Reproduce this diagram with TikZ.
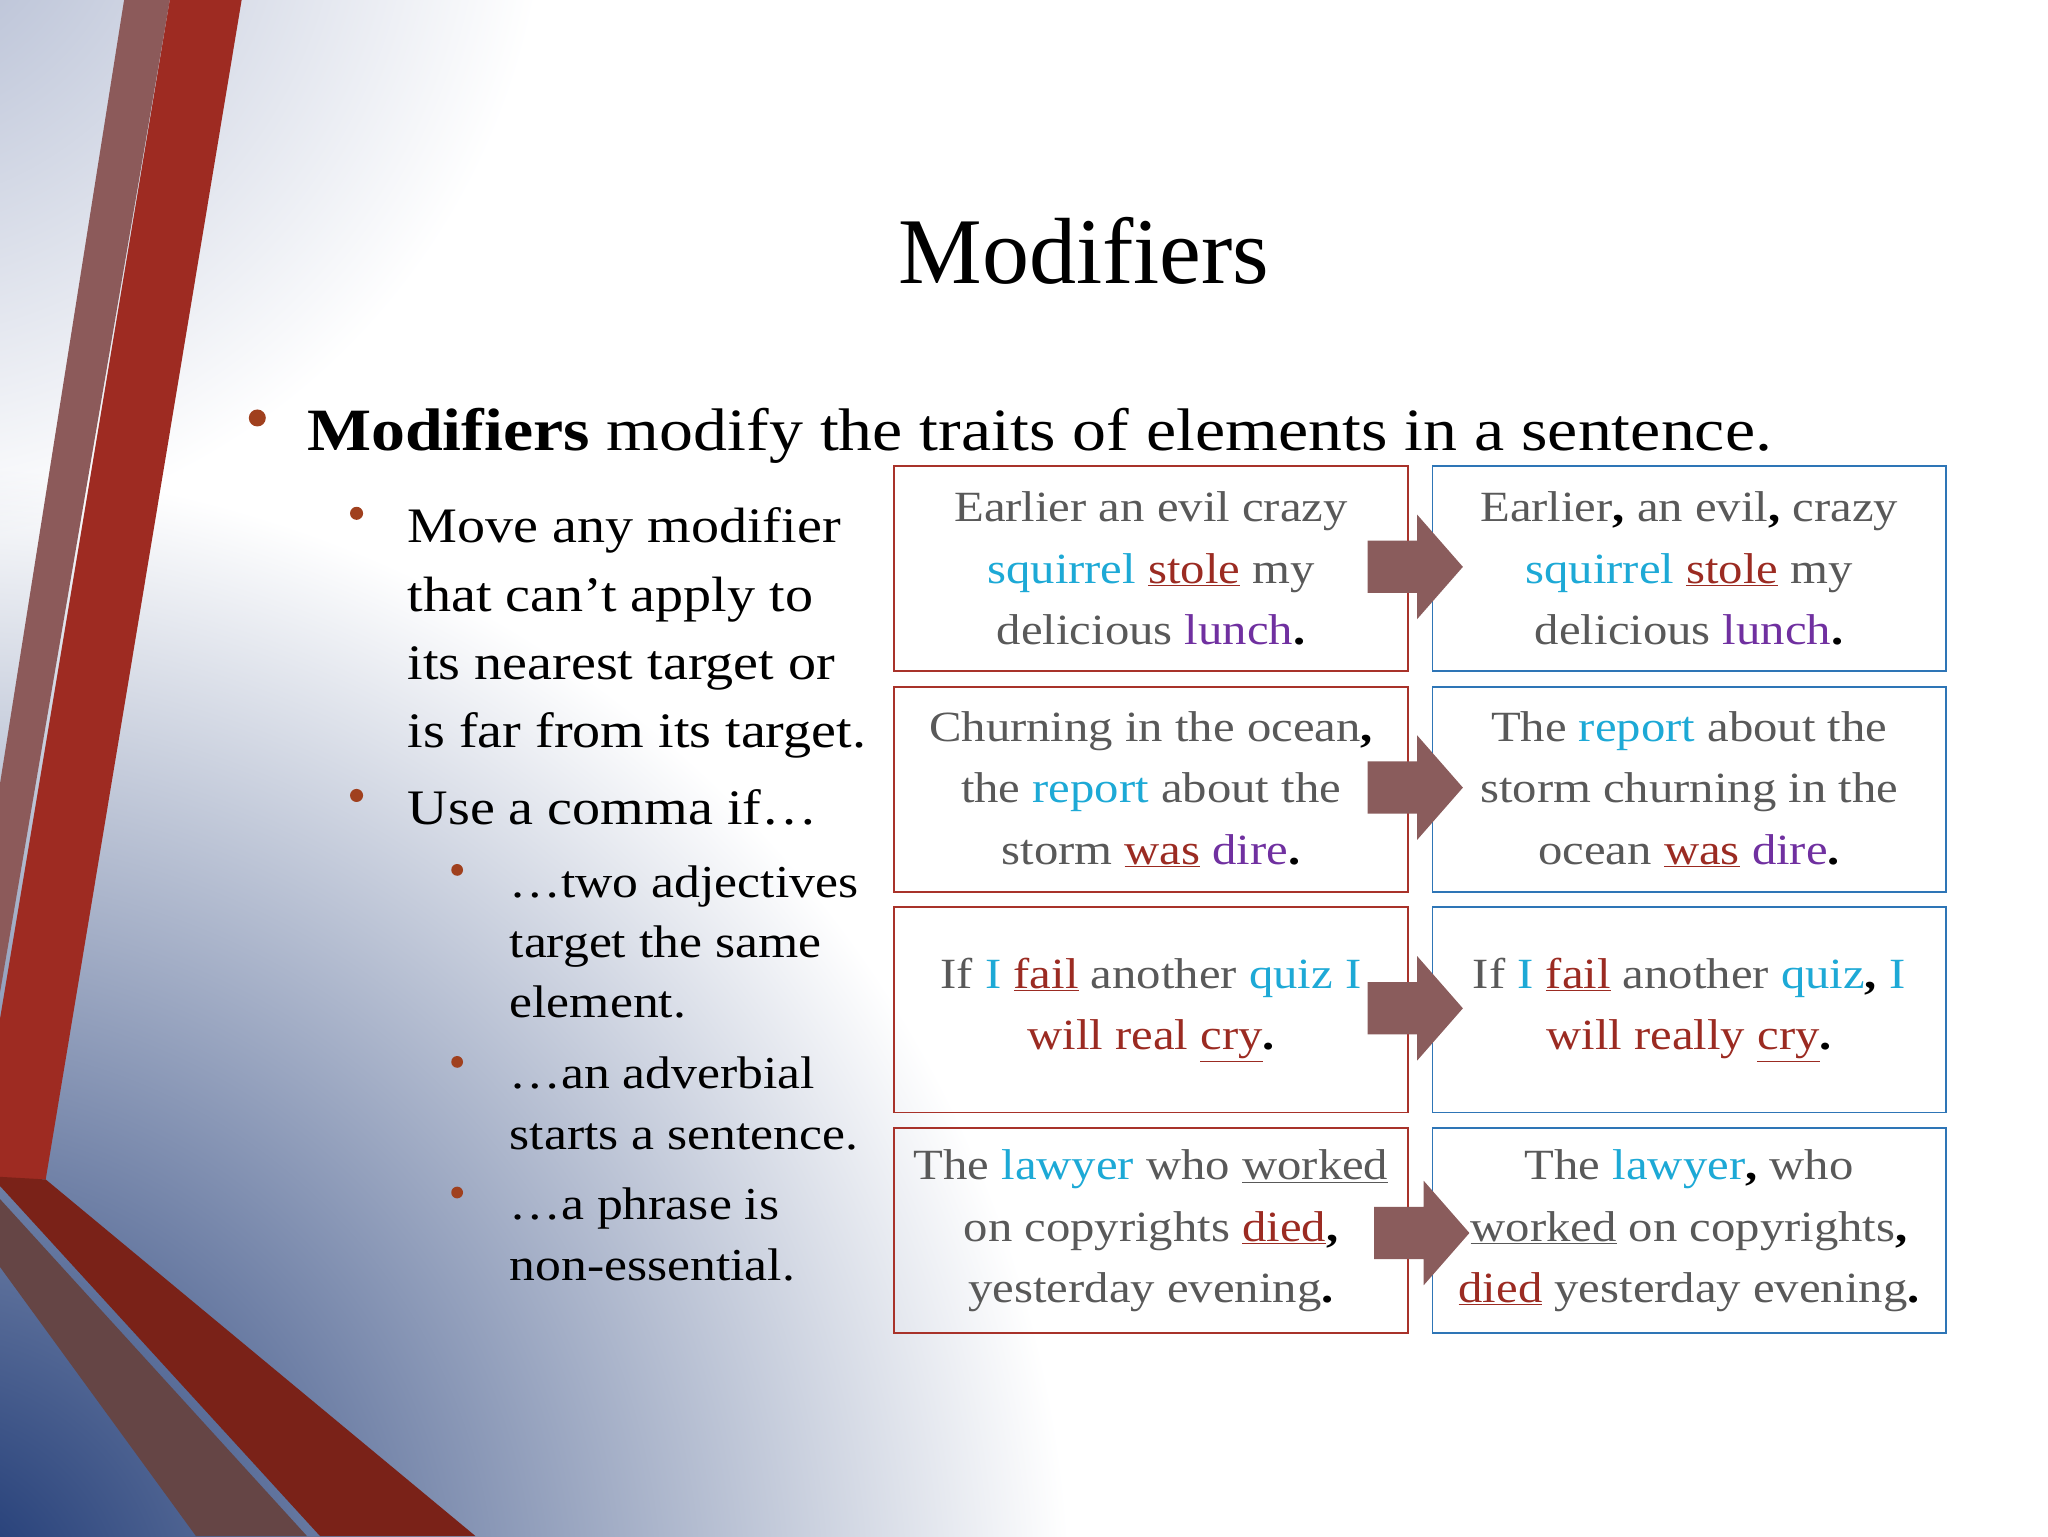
\documentclass[tikz,border=0pt]{standalone}
\usepackage{fontspec}
\setmainfont[FakeStretch=1.13]{Liberation Serif}
\newfontfamily\titlefont{Liberation Serif}
\usetikzlibrary{shadings}
\definecolor{brd}{HTML}{A8322A}
\definecolor{bbl}{HTML}{2E75B6}
\definecolor{txg}{HTML}{595959}
\definecolor{cy}{HTML}{1DA9D6}
\definecolor{vr}{HTML}{9B2B22}
\definecolor{pu}{HTML}{7030A0}
\definecolor{arr}{HTML}{8A5C5C}
\definecolor{bul}{HTML}{A0401E}
\definecolor{stripe}{HTML}{9E2B22}
\definecolor{stripedk}{HTML}{7A2218}
\definecolor{stripeg}{HTML}{8C5A5A}
\definecolor{stripeg2}{HTML}{654545}
\definecolor{navy}{HTML}{14306E}
\definecolor{lbg}{HTML}{A8B2CC}
\newcommand{\Wsub}[1]{\textcolor{cy}{#1}}
\newcommand{\Wverb}[1]{\textcolor{vr}{\underline{#1}}}
\newcommand{\Wpur}[1]{\textcolor{pu}{#1}}
\newcommand{\Wblk}[1]{\textcolor{black}{\textbf{#1}}}
\tikzset{
 lbox/.style={draw=brd,line width=1.5pt,minimum width=393pt,minimum height=157pt,anchor=north west,align=center,text=txg,font=\fontsize{33}{47}\selectfont,inner sep=0pt},
 rbox/.style={lbox,draw=bbl},
 barr/.style={fill=arr,draw=none},
 bl/.style={circle,fill=bul,inner sep=0pt,minimum size=#1},
 t1/.style={anchor=base west,font=\fontsize{46}{50}\selectfont,inner sep=0pt},
 t2/.style={anchor=base west,font=\fontsize{38}{50}\selectfont,inner sep=0pt},
 t3/.style={anchor=base west,font=\fontsize{35}{50}\selectfont,inner sep=0pt},
}
\begin{document}
\begin{tikzpicture}[x=1pt,y=-1pt]
\useasboundingbox (0,0) rectangle (1568,1176);
\fill[white] (0,0) rectangle (1568,1176);
\begin{scope}
\clip (0,0) rectangle (1568,1176);
\shade[inner color=lbg, outer color=white] (-100,-100) circle (520);
\begin{scope}[blend mode=multiply]
\shade[inner color=navy, outer color=white] (-60,1236) circle (880);
\end{scope}
\end{scope}
\fill[stripeg] (95,0) -- (130,0) -- (0,760) -- (0,600) -- cycle;
\fill[stripe] (130,0) -- (185,0) -- (35,903) -- (0,903) -- (0,780) -- cycle;
\fill[stripedk] (0,901) -- (35,903) -- (364,1176) -- (245,1176) -- (0,908) -- cycle;
\fill[stripeg2] (0,918) -- (235,1176) -- (150,1176) -- (0,970) -- cycle;
\node (title) at (830,192) {\titlefont\fontsize{72}{80}\selectfont Modifiers};
\node[bl=13pt] (b0) at (197,320) {};
\node[t1] (l0) at (235,345) {\textbf{Modifiers} modify the traits of elements in a sentence.};
\foreach \y/\t in {402/{Move any modifier},455/{that can’t apply to},507/{its nearest target or},559/{is far from its target.},618/{Use a comma if…}}
  \node[t2] at (312,\y+13) {\t};
\node[bl=10pt] (b1) at (273,393) {};
\node[bl=10pt] (b2) at (273,609) {};
\foreach \y/\t in {675/{…two adjectives},721/{target the same},767/{element.},821/{…an adverbial},868/{starts a sentence.},922/{…a phrase is},968/{non-essential.}}
  \node[t3] at (390,\y+12) {\t};
\node[bl=9pt] (c1) at (350,666) {};
\node[bl=9pt] (c2) at (350,813) {};
\node[bl=9pt] (c3) at (350,913) {};
% boxes
\node[lbox] (l1) at (684,356) {Earlier an evil crazy\\ \Wsub{squirrel} \Wverb{stole} my\\ delicious \Wpur{lunch}\Wblk{.}};
\node[rbox] (r1) at (1096,356) {Earlier\Wblk{,} an evil\Wblk{,} crazy\\ \Wsub{squirrel} \Wverb{stole} my\\ delicious \Wpur{lunch}\Wblk{.}};
\node[lbox] (l2) at (684,525) {Churning in the ocean\Wblk{,}\\ the \Wsub{report} about the\\ storm \Wverb{was} \Wpur{dire}\Wblk{.}};
\node[rbox] (r2) at (1096,525) {The \Wsub{report} about the\\ storm churning in the\\ ocean \Wverb{was} \Wpur{dire}\Wblk{.}};
\node[lbox] (l3) at (684,694) {If \Wsub{I} \Wverb{fail} another \Wsub{quiz} \Wsub{I}\\ \textcolor{vr}{will real} \Wverb{cry}\Wblk{.}};
\node[rbox] (r3) at (1096,694) {If \Wsub{I} \Wverb{fail} another \Wsub{quiz}\Wblk{,} \Wsub{I}\\ \textcolor{vr}{will really} \Wverb{cry}\Wblk{.}};
\node[lbox] (l4) at (684,863) {The \Wsub{lawyer} who \underline{worked}\\ on copyrights \Wverb{died}\Wblk{,}\\ yesterday evening\Wblk{.}};
\node[rbox] (r4) at (1096,863) {The \Wsub{lawyer}\Wblk{,} who\\ \underline{worked} on copyrights\Wblk{,}\\ \Wverb{died} yesterday evening\Wblk{.}};
\foreach \y/\x in {434/1047,603/1047,772/1047,944/1052}
  \fill[barr] (\x,\y-20) -- (\x+38,\y-20) -- (\x+38,\y-40) -- (\x+73,\y) -- (\x+38,\y+40) -- (\x+38,\y+20) -- (\x,\y+20) -- cycle;
\end{tikzpicture}
\end{document}
